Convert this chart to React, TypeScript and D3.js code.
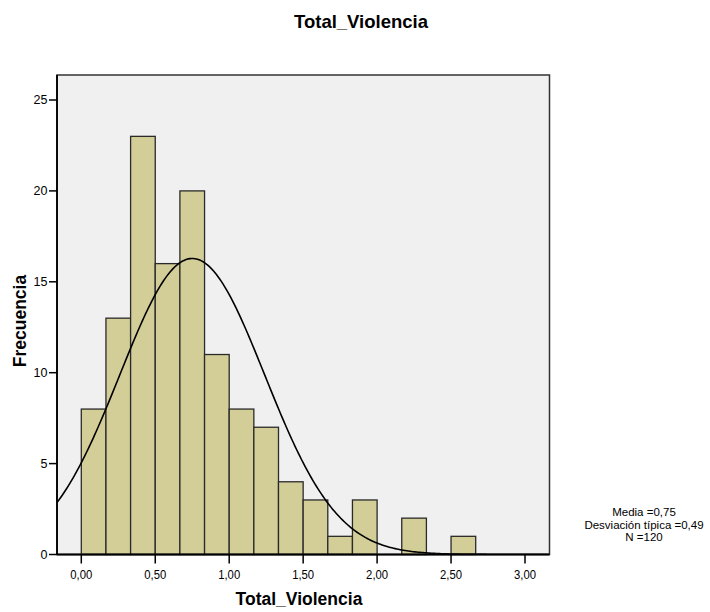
import React from "react";
import * as d3 from "d3";

// Histogram bins (width 1/6, starting at 0) and counts
const binStarts = [0, 1, 2, 3, 4, 5, 6, 7, 8, 9, 10, 11, 12, 13, 14, 15].map((i) => i / 6);
const binWidth = 1 / 6;
const counts = [8, 13, 23, 16, 20, 11, 8, 7, 4, 3, 1, 3, 0, 2, 0, 1];
const xTicks = [0, 0.5, 1, 1.5, 2, 2.5, 3];
const yTicks = [0, 5, 10, 15, 20, 25];
const mean = 0.75;
const sd = 0.49;
const n = 120;
const statLines = ["Media =0,75", "Desviación típica =0,49", "N =120"];

const W = 710;
const H = 612;
const left = 57;
const right = 549.5;
const top = 75;
const bottom = 554.5;

export default function App() {
  const x = d3.scaleLinear().domain([0, 3]).range([81.3, 525]);
  const y = d3.scaleLinear().domain([0, 25]).range([bottom, 100]);
  const xMin = x.invert(left);
  const xMax = x.invert(right);
  const peak = (n * binWidth) / (sd * Math.sqrt(2 * Math.PI));
  const curvePts: [number, number][] = d3
    .range(0, 301)
    .map((i) => xMin + ((xMax - xMin) * i) / 300)
    .map((v) => [v, peak * Math.exp(-0.5 * ((v - mean) / sd) ** 2)]);
  const line = d3
    .line<[number, number]>()
    .x((d) => x(d[0]))
    .y((d) => y(d[1]));
  const fmt = (v: number) => v.toFixed(2).replace(".", ",");
  const font = "'Liberation Sans', Arial, sans-serif";

  return (
    <svg
      width={W}
      height={H}
      style={{ position: "absolute", left: 0, top: 0, background: "#fff" }}
      fontFamily={font}
    >
      <defs>
        <clipPath id="plotclip">
          <rect x={left} y={top} width={right - left} height={bottom - top} />
        </clipPath>
      </defs>
      <text x={361} y={27.5} textAnchor="middle" fontSize={18.5} fontWeight="bold" fill="#000">
        Total_Violencia
      </text>
      <rect x={left} y={top} width={right - left} height={bottom - top} fill="#f0f0f0" />
      <g>
        {counts.map((c, i) =>
          c > 0 ? (
            <rect
              key={i}
              x={x(binStarts[i])}
              y={y(c)}
              width={x(binStarts[i] + binWidth) - x(binStarts[i])}
              height={y(0) - y(c)}
              fill="#d3ce98"
              stroke="#2a2a2a"
              strokeWidth={1.3}
            />
          ) : null
        )}
      </g>
      <path
        d={line(curvePts) || ""}
        fill="none"
        stroke="#000"
        strokeWidth={1.6}
        clipPath="url(#plotclip)"
      />
      <rect
        x={left}
        y={top}
        width={right - left}
        height={bottom - top}
        fill="none"
        stroke="#333"
        strokeWidth={1.5}
      />
      <line x1={left} x2={left} y1={top} y2={bottom} stroke="#000" strokeWidth={1.8} />
      <line x1={left} x2={right} y1={bottom} y2={bottom} stroke="#000" strokeWidth={1.8} />
      {yTicks.map((t) => (
        <g key={t}>
          <line x1={left - 8} x2={left} y1={y(t)} y2={y(t)} stroke="#000" strokeWidth={1.5} />
          <text x={left - 9.5} y={y(t) + 4.3} textAnchor="end" fontSize={12.5} fill="#000">
            {t}
          </text>
        </g>
      ))}
      {xTicks.map((t) => (
        <g key={t}>
          <line x1={x(t)} x2={x(t)} y1={bottom} y2={bottom + 9} stroke="#000" strokeWidth={1.5} />
          <text
            x={x(t)}
            y={579}
            textAnchor="middle"
            fontSize={12.5}
            fill="#000"
            textLength={22}
            lengthAdjust="spacingAndGlyphs"
          >
            {fmt(t)}
          </text>
        </g>
      ))}
      <text x={299} y={605} textAnchor="middle" fontSize={17.5} fontWeight="bold" fill="#000">
        Total_Violencia
      </text>
      <text
        transform={`translate(26,321) rotate(-90)`}
        textAnchor="middle"
        fontSize={17.5}
        fontWeight="bold"
        fill="#000"
      >
        Frecuencia
      </text>
      {statLines.map((s, i) => (
        <text key={i} x={644} y={516 + i * 12.5} textAnchor="middle" fontSize={11.5} fill="#000">
          {s}
        </text>
      ))}
    </svg>
  );
}
